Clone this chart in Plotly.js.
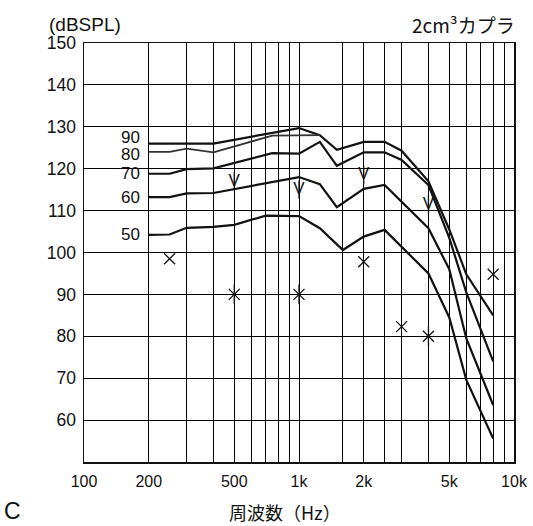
<!DOCTYPE html>
<html><head><meta charset="utf-8">
<script src="https://cdn.plot.ly/plotly-3.0.1.min.js"></script>
<style>html,body{margin:0;padding:0;background:#fff}#chart{width:533px;height:526px}</style>
</head><body><div id="chart"></div>
<script>
// ---- data ----
const curveNames = ['90', '80', '70', '60', '50'];
const freq90 = [200, 400, 1000, 1250, 1500, 2000, 2500, 3000, 4000, 5000, 6000, 8000];
const spl90  = [126, 126, 129.7, 128, 124.5, 126.4, 126.4, 124.3, 117, 105.5, 94.8, 85];
const freq80 = [200, 250, 300, 400, 750, 1000, 1250];
const spl80  = [124, 124, 124.8, 123.9, 127.9, 128, 128];
const freq70 = [200, 250, 300, 400, 750, 1000, 1250, 1500, 2000, 2500, 3000, 4000, 5000, 6000, 8000];
const spl70  = [118.8, 118.8, 119.9, 120.1, 123.7, 123.6, 126.4, 120.7, 123.9, 123.9, 122.1, 116.1, 103.5, 90.5, 74];
const freq60 = [200, 250, 300, 400, 1000, 1250, 1500, 2000, 2500, 4000, 5000, 6000, 8000];
const spl60  = [113.2, 113.2, 114.1, 114.2, 118, 116.3, 110.8, 115.2, 116.1, 105.8, 96, 79.5, 63.6];
const freq50 = [200, 250, 300, 400, 500, 700, 1000, 1250, 1600, 2000, 2500, 4000, 5000, 6000, 8000];
const spl50  = [104.2, 104.3, 105.9, 106.1, 106.6, 108.8, 108.7, 105.8, 100.6, 103.8, 105.4, 95, 84.5, 69.6, 55.6];

const crossFreq = [250, 2000, 3000, 8000];
const crossSpl  = [98.5, 97.8, 82.3, 94.8];
const starFreq  = [500, 1000, 4000];
const starSpl   = [90, 90, 80];
const arrowFreq = [500, 1000, 2000, 4000];
const arrowSpl  = [117, 115, 118.5, 111.5];

const gridFreqs = [100, 200, 300, 400, 500, 600, 700, 800, 900, 1000, 1600, 2000, 2500, 3000, 4000, 5000, 6000, 7000, 8000, 9000, 10000];
const labeledFreqs = [100, 200, 500, 1000, 2000, 5000, 10000];
const labeledText  = ['100', '200', '500', '1k', '2k', '5k', '10k'];
const yTicks = [60, 70, 80, 90, 100, 110, 120, 130, 140, 150];

const yLabel = '(dBSPL)';
const couplerLabel = '2cm³カプラ';
const xLabel = '周波数（Hz）';
const panelLabel = 'C';

// ---- build ----
const INK = '#111';
const LAT = 'Liberation Sans, Arial, sans-serif';
const CJK = 'Noto Sans CJK JP, sans-serif';
const ticktext = gridFreqs.map(f => { const i = labeledFreqs.indexOf(f); return i >= 0 ? labeledText[i] : ''; });

const series = [[freq90, spl90], [freq80, spl80], [freq70, spl70], [freq60, spl60], [freq50, spl50]];
const traces = series.map((s, i) => ({
  x: s[0], y: s[1], type: 'scatter', mode: 'lines',
  line: {color: i === 1 ? '#333' : INK, width: i === 1 ? 1.8 : 2.2},
  hoverinfo: 'skip'
}));
traces.push({x: crossFreq, y: crossSpl, type: 'scatter', mode: 'markers',
  marker: {symbol: 'x-thin-open', size: 11, color: INK, line: {color: INK, width: 1.3}}});
traces.push({x: starFreq, y: starSpl, type: 'scatter', mode: 'markers',
  marker: {symbol: 'x-thin-open', size: 11, color: INK, line: {color: INK, width: 1.3}}});
traces.push({x: starFreq, y: starSpl, type: 'scatter', mode: 'markers',
  marker: {symbol: 'line-ns-open', size: 14, color: INK, line: {color: INK, width: 1.3}}});
traces.push({x: arrowFreq, y: arrowSpl, type: 'scatter', mode: 'markers+text',
  text: arrowFreq.map(() => 'V'), textposition: 'middle center',
  textfont: {family: LAT, size: 17, color: INK},
  marker: {symbol: 'line-ns-open', size: 13, color: INK, line: {color: INK, width: 1.3}}});

const annotations = [
  {text: yLabel, xref: 'paper', yref: 'paper', x: -0.087, y: 1.043, xanchor: 'left', yanchor: 'middle', showarrow: false, font: {family: LAT, size: 19, color: INK}},
  {text: couplerLabel, xref: 'paper', yref: 'paper', x: 1.008, y: 1.043, xanchor: 'right', yanchor: 'middle', showarrow: false, font: {family: CJK, size: 19, color: INK}},
  {text: panelLabel, xref: 'paper', yref: 'paper', x: -0.167, y: -0.118, xanchor: 'center', yanchor: 'middle', showarrow: false, font: {family: LAT, size: 23, color: INK}},
  {text: xLabel, xref: 'paper', yref: 'paper', x: 0.4674, y: -0.12, xanchor: 'center', yanchor: 'middle', showarrow: false, font: {family: CJK, size: 18, color: INK}}
];
const labelShift = [6, -3, 0, 0, 0];
series.forEach((s, i) => annotations.push({
  text: curveNames[i], xref: 'x', yref: 'y', x: Math.log10(165), y: s[1][0], yshift: labelShift[i],
  xanchor: 'center', yanchor: 'middle', showarrow: false, font: {family: LAT, size: 17, color: INK}
}));

const layout = {
  width: 533, height: 526,
  margin: {l: 84, r: 19, t: 43, b: 64},
  paper_bgcolor: '#fff', plot_bgcolor: '#fff',
  showlegend: false,
  font: {family: LAT, color: INK},
  xaxis: {type: 'log', range: [2, 4], tickmode: 'array', tickvals: gridFreqs, ticktext: ticktext,
    showgrid: true, gridcolor: '#000', gridwidth: 1, zeroline: false,
    showline: true, linecolor: INK, linewidth: 1.5, mirror: true, ticks: '',
    tickfont: {family: LAT, size: 16, color: INK}, ticklabelstandoff: 4},
  yaxis: {range: [50, 150], tickmode: 'array', tickvals: yTicks,
    showgrid: true, gridcolor: '#000', gridwidth: 1, zeroline: false,
    showline: true, linecolor: INK, linewidth: 1.5, mirror: true, ticks: '',
    tickfont: {family: LAT, size: 17.5, color: INK}, ticklabelstandoff: 3},
  annotations: annotations
};
Plotly.newPlot('chart', traces, layout, {staticPlot: true, displayModeBar: false});
</script>
</body></html>
